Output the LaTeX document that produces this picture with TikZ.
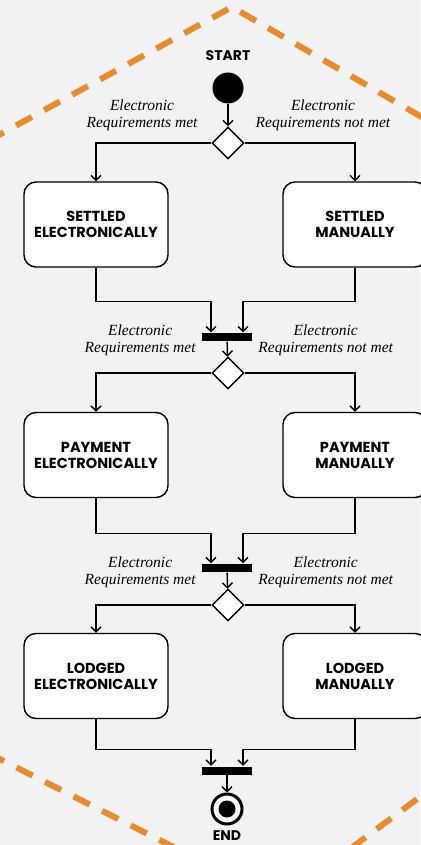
\documentclass[tikz,border=0pt]{standalone}
\usepackage{fontspec}
\setmainfont{Liberation Serif}
\newfontfamily\capsfont{Poppins}
\usepackage{xcolor}
\usetikzlibrary{arrows.meta,calc,positioning,shapes.geometric}
\definecolor{paper}{HTML}{F2F2F2}
\definecolor{tape}{HTML}{E98B2A}

\begin{document}
\begin{tikzpicture}[x=1pt,y=-1pt,-,>={Straight Barb[length=5pt,width=10pt]},line width=1.4pt]
  \tikzstyle{activity}=[draw, fill=white, rounded corners=12pt, minimum width=144pt, minimum height=85pt, align=center, font=\capsfont\bfseries\fontsize{14.5}{16}\selectfont]
  \tikzstyle{choice}=[draw, fill=white, diamond, aspect=1, minimum size=32pt, inner sep=0pt]
  \tikzstyle{sync}=[fill=black, minimum width=50pt, minimum height=8pt, inner sep=0pt]
  \tikzstyle{guard}=[align=center, inner sep=0pt, font=\itshape\fontsize{15.5}{17}\selectfont]
  \tikzstyle{caption}=[inner sep=0pt, font=\capsfont\bfseries\fontsize{14}{16}\selectfont]
  \tikzstyle{flow}=[->]

  % page
  \fill[paper] (0,0) rectangle (420,845);
  \useasboundingbox (0,0) rectangle (420,845);
  \draw[tape, line width=6pt, dash pattern=on 18pt off 14pt] (-12,141) -- (232,7) -- (432,123);
  \draw[tape, line width=6pt, dash pattern=on 18pt off 14pt] (-12,753) -- (280,901) -- (440,782);

  % start
  \node[caption] (starttxt) at (228,56) {START};
  \node[circle, fill=black, minimum size=31pt, inner sep=0pt] (start) at (228,88) {};
  \node[choice] (d1) at (228,143) {};
  \node[guard] (g1e) at (142,115) {Electronic\\Requirements met};
  \node[guard] (g1m) at (323,115) {Electronic\\Requirements not met};

  % settled
  \node[activity] (s1e) at (96,224.5) {SETTLED\\ELECTRONICALLY};
  \node[activity] (s1m) at (355,224.5) {SETTLED\\MANUALLY};
  \node[sync] (bar1) at (227,337) {};
  \node[guard, left=5pt of bar1, yshift=-3pt] (g2e) {Electronic\\Requirements met};
  \node[guard, right=5pt of bar1, yshift=-3pt] (g2m) {Electronic\\Requirements not met};
  \node[choice] (d2) at (228,373) {};

  % payment
  \node[activity] (p2e) at (96,455) {PAYMENT\\ELECTRONICALLY};
  \node[activity] (p2m) at (355,455) {PAYMENT\\MANUALLY};
  \node[sync] (bar2) at (227,568) {};
  \node[guard, left=5pt of bar2, yshift=-4pt] (g3e) {Electronic\\Requirements met};
  \node[guard, right=5pt of bar2, yshift=-4pt] (g3m) {Electronic\\Requirements not met};
  \node[choice] (d3) at (228,605) {};

  % lodged
  \node[activity] (l3e) at (96,676) {LODGED\\ELECTRONICALLY};
  \node[activity] (l3m) at (355,676) {LODGED\\MANUALLY};
  \node[sync] (bar3) at (227,770.5) {};

  % end
  \node[circle, draw, line width=3pt, fill=white, minimum size=30pt, inner sep=0pt] (end) at (227,809) {};
  \fill (end.center) circle (8.5);
  \node[caption] (endtxt) at (227,836) {END};

  \draw[flow] (start) -- (d1);
  \draw[flow] (d1.west) -| (s1e);
  \draw[flow] (d1.east) -| (s1m);
  \draw[flow] (s1e.south) -- ++(0,34) -| ([xshift=-16pt]bar1.north);
  \draw[flow] (s1m.south) -- ++(0,34) -| ([xshift=16pt]bar1.north);
  \draw[flow] (bar1) -- (d2);
  \draw[flow] (d2.west) -| (p2e);
  \draw[flow] (d2.east) -| (p2m);
  \draw[flow] (p2e.south) -- ++(0,35) -| ([xshift=-16pt]bar2.north);
  \draw[flow] (p2m.south) -- ++(0,35) -| ([xshift=16pt]bar2.north);
  \draw[flow] (bar2) -- (d3);
  \draw[flow] (d3.west) -| (l3e);
  \draw[flow] (d3.east) -| (l3m);
  \draw[flow] (l3e.south) -- ++(0,30) -| ([xshift=-16pt]bar3.north);
  \draw[flow] (l3m.south) -- ++(0,30) -| ([xshift=16pt]bar3.north);
  \draw[flow] (bar3) -- (end);
\end{tikzpicture}
\end{document}
